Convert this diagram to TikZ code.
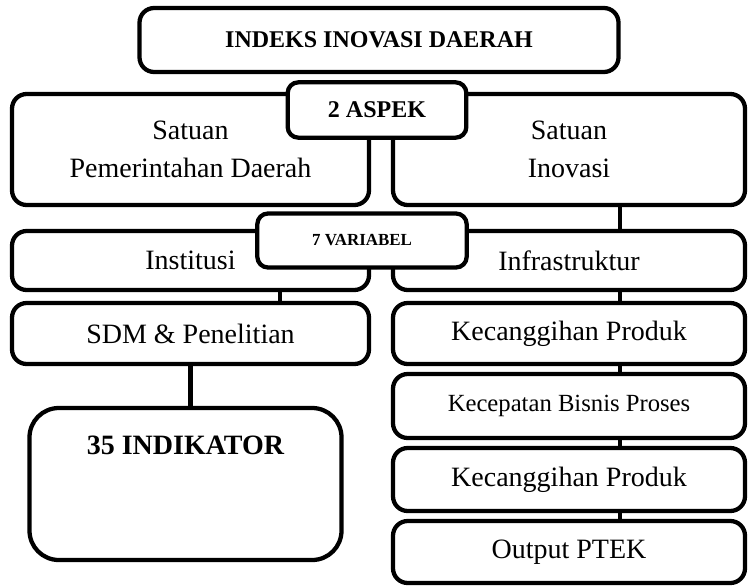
\documentclass[tikz,border=0pt]{standalone}
\usepackage{fontspec}
\setmainfont{Liberation Serif}
\begin{document}
\begin{tikzpicture}[x=0.75pt,y=-0.75pt,
  box/.style={draw=black,line width=3.2pt,fill=white,rounded corners=8pt,inner sep=0pt,align=center,
    font=\fontsize{21}{28.5}\selectfont},
  bigbox/.style={box,rounded corners=11pt},
  conn/.style={draw=black,line width=3.1pt}]
\useasboundingbox (0,0) rectangle (748,585);

\coordinate (cx) at (620,0);
\coordinate (lx) at (280,0);

% top
\node[bigbox,minimum width=359.25pt,minimum height=48pt,font=\fontsize{18}{22}\selectfont\bfseries] (title) at (379,40) {INDEKS INOVASI DAERAH};

% aspects
\node[bigbox,minimum width=267.75pt,minimum height=83.25pt] (sat1) at (190.5,149.5) {Satuan\\Pemerintahan Daerah};
\node[bigbox,minimum width=264pt,minimum height=83.25pt] (sat2) at (569,149.5) {Satuan\\Inovasi};
\node[box,minimum width=134pt,minimum height=41.5pt,font=\fontsize{18}{22}\selectfont\bfseries] (aspek) at (377,110) {2 ASPEK};

% variables
\node[bigbox,minimum width=267.75pt,minimum height=44.25pt] (inst) at (190.5,260.5) {Institusi};
\node[bigbox,minimum width=264pt,minimum height=44.25pt] (infra) at (569,260.5) {Infrastruktur};
\node[box,minimum width=157pt,minimum height=40.5pt,font=\fontsize{12.7}{15}\selectfont\bfseries] (var) at (362,240.5) {7 VARIABEL};

\node[bigbox,minimum width=267.75pt,minimum height=45.75pt] (sdm) at (190.5,333.5) {SDM \& Penelitian};
\node[bigbox,minimum width=264pt,minimum height=45.75pt] (kec1) at (569,333.5) {Kecanggihan Produk};
\node[bigbox,minimum width=264pt,minimum height=48pt,font=\fontsize{18.5}{22}\selectfont] (kcp) at (569,406) {Kecepatan Bisnis Proses};
\node[bigbox,minimum width=264pt,minimum height=47.25pt] (kec2) at (569,479.5) {Kecanggihan Produk};
\node[bigbox,minimum width=264pt,minimum height=46.5pt] (out) at (569,552) {Output PTEK};

\node[box,rounded corners=22pt,minimum width=234pt,minimum height=114pt] (ind) at (185.5,484) {};
\node[inner sep=0pt,font=\fontsize{21}{25}\selectfont\bfseries] (indlabel) at (185.5,445) {35 INDIKATOR};

% connectors
\draw[conn] (sat2.south -| cx) -- (infra.north -| cx);
\draw[conn] (inst.south -| lx) -- (sdm.north -| lx);
\draw[conn] (infra.south -| cx) -- (kec1.north -| cx);
\draw[conn] (sdm.south) -- (sdm.south |- ind.north);
\draw[conn] (kec1.south -| cx) -- (kcp.north -| cx);
\draw[conn] (kcp.south -| cx) -- (kec2.north -| cx);
\draw[conn] (kec2.south -| cx) -- (out.north -| cx);
\end{tikzpicture}
\end{document}
